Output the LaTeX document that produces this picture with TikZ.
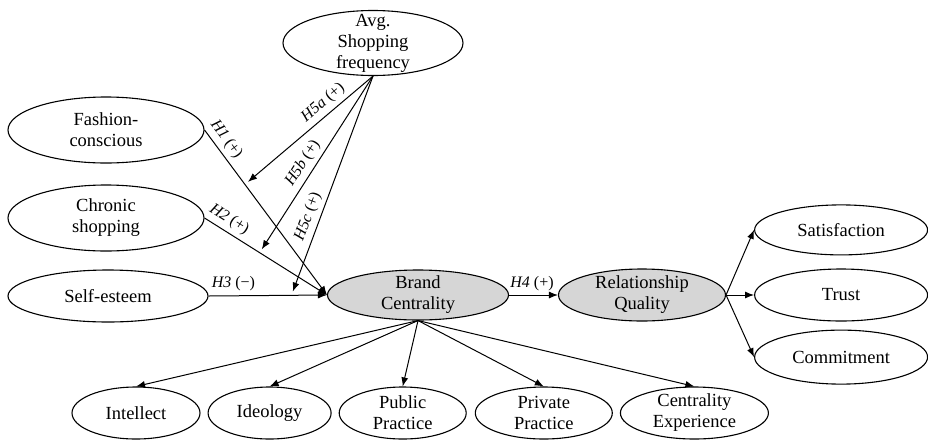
\documentclass[tikz,border=0pt]{standalone}
\usepackage{fontspec}
\setmainfont{Liberation Serif}
\usetikzlibrary{shapes.geometric, positioning, calc, arrows.meta}
\definecolor{centrefill}{gray}{0.84}

\begin{document}
\begin{tikzpicture}[
    x = 1pt, y = -1pt, > = {Latex[length = 9pt, width = 7pt]},
    font = \fontsize{18.5}{21}\selectfont,
    construct/.style = {ellipse, draw, line width = 1.1pt, align = center, inner xsep = 0pt, inner ysep = -12pt, minimum width = 173pt, minimum height = 52pt},
    focal/.style = {construct, fill = centrefill},
    effect/.style = {->, line width = 1pt},
    hyp/.style = {font = \fontsize{16}{18}\selectfont, inner sep = 4pt},
    ]
    \useasboundingbox (0,0) rectangle (928,440);

    % draw antecedents and moderator
    \node [construct, minimum width = 180pt, minimum height = 65pt] (avgfreq) at (373,43) {Avg.\\ Shopping\\ frequency};
    \node [construct, minimum width = 196pt, minimum height = 66pt] (fashion) at (106,130) {Fashion-\\ conscious};
    \node [construct, minimum width = 196pt, minimum height = 66pt] (chronic) at (106,218) {Chronic\\ shopping};
    \node [construct, minimum width = 200pt] (selfest) at (108,296) {Self-esteem};

    % draw focal constructs
    \node [focal, minimum width = 181pt, minimum height = 50pt] (brandc) at (418,295) {Brand\\ Centrality};
    \node [focal, minimum width = 167pt] (relq) at (642,295) {Relationship\\ Quality};

    % draw relationship quality dimensions
    \node [construct] (trust) [right = 28pt of relq] {Trust};
    \node [construct, minimum height = 50pt] (satisf) [above = 13pt of trust] {Satisfaction};
    \node [construct, minimum height = 54pt] (commit) [below = 8pt of trust] {Commitment};

    % draw brand centrality dimensions
    \node [construct, minimum width = 128pt] (intellect) at (136,413) {Intellect};
    \node [construct, minimum width = 123pt] (ideology) [right = 7pt of intellect] {Ideology};
    \node [construct, minimum width = 127pt] (publicp) [right = 7pt of ideology] {Public\\ Practice};
    \node [construct, minimum width = 137pt] (privatep) [right = 8pt of publicp] {Private\\ Practice};
    \node [construct, minimum width = 148pt] (centexp) [right = 7pt of privatep] {Centrality\\ Experience};

    % draw hypothesised paths
    \draw [effect] (fashion.east) -- node [hyp, sloped, above, pos = .1] {\textit{H1} (+)} (brandc.west);
    \draw [effect] (chronic.east) -- node [hyp, sloped, above, pos = .15] {\textit{H2} (+)} (brandc.west);
    \draw [effect] (selfest.east) -- node [hyp, above, pos = .21] {\textit{H3} (−)} (brandc.west);
    \draw [effect] (brandc.east) -- node [hyp, above, pos = .47] {\textit{H4} (+)} (relq.west);

    % draw moderating paths
    \coordinate (onH1) at ($(fashion.east)!.33!(brandc.west)$);
    \coordinate (onH2) at ($(chronic.east)!.45!(brandc.west)$);
    \coordinate (onH3) at ($(selfest.east)!.70!(brandc.west)$);
    \draw [effect, shorten > = 4pt] (avgfreq.south) -- node [hyp, sloped, above, pos = .33] {\textit{H5a} (+)} (onH1);
    \draw [effect, shorten > = 4pt] (avgfreq.south) -- node [hyp, sloped, above, pos = .53] {\textit{H5b} (+)} (onH2);
    \draw [effect, shorten > = 4pt] (avgfreq.south) -- node [hyp, sloped, above, pos = .66] {\textit{H5c} (+)} (onH3);

    % draw measurement paths
    \foreach \dim in {intellect, ideology, publicp, privatep, centexp}
        \draw [effect] (brandc.south) -- (\dim.north);
    \foreach \dim in {satisf, trust, commit}
        \draw [effect] (relq.east) -- (\dim.west);
\end{tikzpicture}
\end{document}
